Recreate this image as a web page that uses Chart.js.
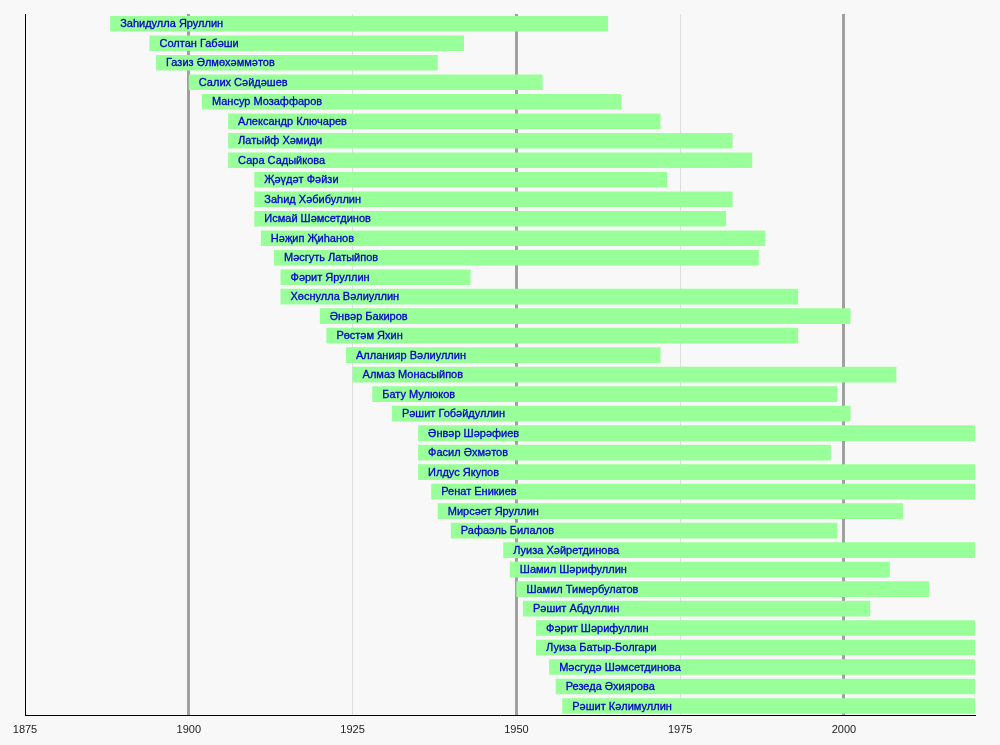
<!DOCTYPE html>
<html>
<head>
<meta charset="utf-8">
<script src="https://cdn.jsdelivr.net/npm/chart.js@4"></script>
<style>
  html, body { margin: 0; padding: 0; background: #f8f8f8; }
  #wrap { width: 1000px; height: 745px; }
</style>
</head>
<body>
<div id="wrap"><canvas id="chart"></canvas></div>
<script>
// Timeline data (years)
const names = [
    'Заһидулла Яруллин', 'Солтан Габәши', 'Газиз Әлмөхәммәтов', 'Салих Сәйдәшев',
    'Мансур Мозаффаров', 'Александр Ключарев', 'Латыйф Хәмиди', 'Сара Садыйкова',
    'Җәүдәт Фәйзи', 'Заһид Хәбибуллин', 'Исмай Шәмсетдинов', 'Нәҗип Җиһанов',
    'Мәсгуть Латыйпов', 'Фәрит Яруллин', 'Хөснулла Вәлиуллин', 'Әнвәр Бакиров',
    'Рөстәм Яхин', 'Алланияр Вәлиуллин', 'Алмаз Монасыйпов', 'Бату Мулюков',
    'Рәшит Гобәйдуллин', 'Әнвәр Шәрәфиев', 'Фасил Әхмәтов', 'Илдус Якупов',
    'Ренат Еникиев', 'Мирсәет Яруллин', 'Рафаэль Билалов', 'Луиза Хәйретдинова',
    'Шамил Шәрифуллин', 'Шамил Тимербулатов', 'Рәшит Абдуллин', 'Фәрит Шәрифуллин',
    'Луиза Батыр-Болгари', 'Мәсгудә Шәмсетдинова', 'Резеда Әхиярова', 'Рәшит Кәлимуллин'
];
const startYears = [
    1888, 1894, 1895, 1900, 1902, 1906, 1906, 1906,
    1910, 1910, 1910, 1911, 1913, 1914, 1914, 1920,
    1921, 1924, 1925, 1928, 1931, 1935, 1935, 1935,
    1937, 1938, 1940, 1948, 1949, 1950, 1951, 1953,
    1953, 1955, 1956, 1957
];
const endYears = [
    1964, 1942, 1938, 1954, 1966, 1972, 1983, 1986,
    1973, 1983, 1982, 1988, 1987, 1943, 1993, 2001,
    1993, 1972, 2008, 1999, 2001, 2020, 1998, 2020,
    2020, 2009, 1999, 2020, 2007, 2013, 2004, 2020,
    2020, 2020, 2020, 2020
];
const axisMin = 1875;
const axisMax = 2020;

// draws each name inside its bar
const barLabels = {
    id: 'barLabels',
    afterDatasetsDraw(chart) {
        const ctx = chart.ctx;
        const meta = chart.getDatasetMeta(0);
        ctx.save();
        ctx.font = '11px "Liberation Sans", Arial, sans-serif';
        ctx.fillStyle = '#0000c8';
        ctx.strokeStyle = '#0000c8';
        ctx.lineWidth = 0.3;
        ctx.textBaseline = 'middle';
        ctx.textAlign = 'left';
        meta.data.forEach((bar, i) => {
            const left = Math.min(bar.x, bar.base);
            ctx.fillText(names[i], left + 10, bar.y + 0.5);
            ctx.strokeText(names[i], left + 10, bar.y + 0.5);
        });
        ctx.restore();
    }
};

new Chart(document.getElementById('chart'), {
    type: 'bar',
    data: {
        labels: names,
        datasets: [{
            data: startYears.map((s, i) => [s, endYears[i]]),
            backgroundColor: '#99ff99',
            borderWidth: 0,
            barPercentage: 0.8,
            categoryPercentage: 1
        }]
    },
    options: {
        indexAxis: 'y',
        responsive: true,
        maintainAspectRatio: false,
        animation: false,
        layout: { padding: { left: 25, right: 25, top: 14, bottom: 0 } },
        plugins: {
            legend: { display: false },
            tooltip: { enabled: false }
        },
        scales: {
            x: {
                type: 'linear',
                min: axisMin,
                max: axisMax,
                grid: {
                    z: -1,
                    drawTicks: false,
                    color: c => (c.tick && c.tick.value % 50 === 0) ? '#a0a0a0' : '#dddddd',
                    lineWidth: c => (c.tick && c.tick.value % 50 === 0) ? 3 : 1
                },
                border: { color: '#000000', width: 1 },
                ticks: {
                    stepSize: 25,
                    includeBounds: false,
                    padding: 8,
                    color: '#222222',
                    font: { size: 11, family: '"Liberation Sans", Arial, sans-serif' },
                    callback: v => String(v)
                }
            },
            y: {
                grid: { display: false, drawTicks: false },
                border: { color: '#000000', width: 1 },
                ticks: { display: false },
                afterFit: s => { s.width = 0; }
            }
        }
    },
    plugins: [barLabels]
});
</script>
</body>
</html>
